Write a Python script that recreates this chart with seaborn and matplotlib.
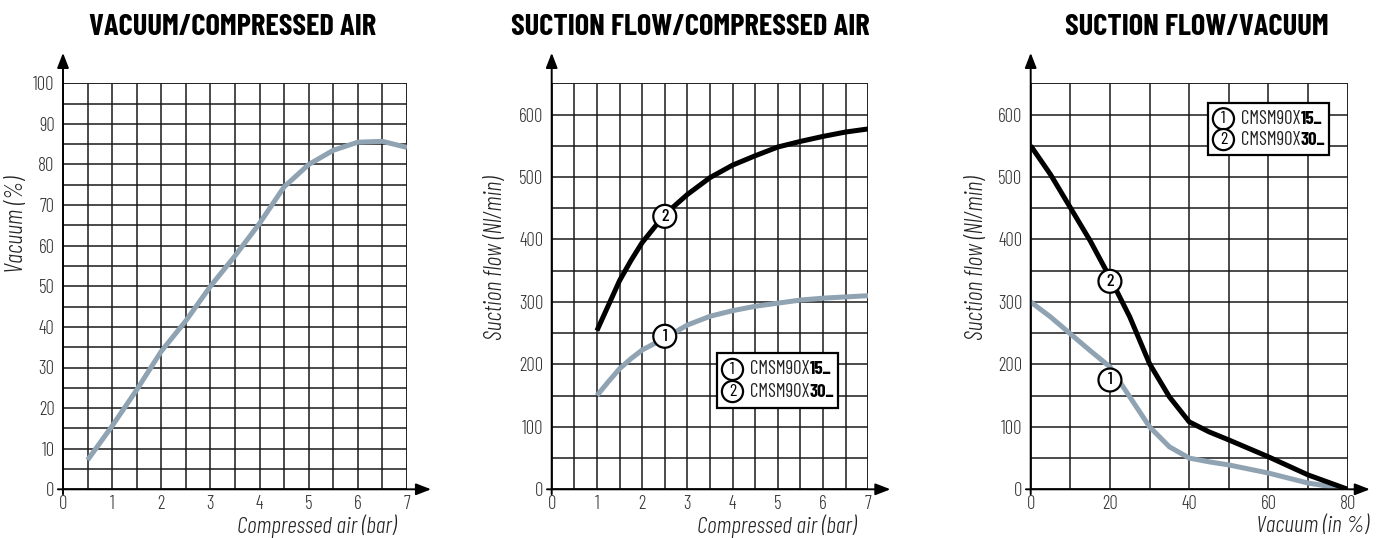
import numpy as np
import pandas as pd
import matplotlib
matplotlib.use("Agg")
import matplotlib.pyplot as plt
import seaborn as sns
from matplotlib.patches import Rectangle

# ---------------- data ----------------
p1_air = [0.5, 1.0, 1.5, 2.0, 2.5, 3.0, 3.5, 4.0, 4.5, 5.0, 5.5, 6.0, 6.5, 7.0]
p1_vac = [7.2, 15.6, 24.5, 34.0, 41.5, 50.0, 57.5, 65.5, 74.5, 80.0, 83.5, 85.5, 85.7, 84.2]

p2_air = [1.0, 1.25, 1.5, 1.75, 2.0, 2.5, 3.0, 3.5, 4.0, 4.5, 5.0, 5.5, 6.0, 6.5, 7.0]
p2_flow15 = [150, 172, 193, 209, 223, 242, 263, 277, 286, 293, 298, 303, 306, 308, 310]
p2_flow30 = [254, 294, 334, 366, 395, 440, 472, 499, 519, 534, 548, 557, 565, 572, 577]

p3_vac = [0, 5, 10, 15, 20, 25, 30, 35, 40, 45, 50, 60, 70, 80]
p3_flow15 = [300, 276, 249, 222, 196, 148, 100, 68, 50, 44, 39, 26, 10, 0]
p3_flow30 = [550, 504, 451, 398, 339, 276, 201, 148, 108, 92, 79, 52, 23, 0]

titles = ["VACUUM/COMPRESSED AIR", "SUCTION FLOW/COMPRESSED AIR", "SUCTION FLOW/VACUUM"]
xlabels = ["Compressed air (bar)", "Compressed air (bar)", "Vacuum (in %)"]
ylabels = ["Vacuum (%)", "Suction flow (Nl/min)", "Suction flow (Nl/min)"]
legend_models = [("1", "CMSM90X", "15_"), ("2", "CMSM90X", "30_")]
p2_marks = [("1", 2.5, 245), ("2", 2.5, 437)]
p3_marks = [("1", 20, 175), ("2", 20, 333)]

GREY = "#8fa3b3"
BLACK = "#000000"

sns.set_style("white")
FONT = ["Barlow Condensed", "DejaVu Sans"]
plt.rcParams["font.family"] = FONT
plt.rcParams["text.color"] = "#222222"

fig = plt.figure(figsize=(13.85, 5.38), dpi=100)
W, H = 1385, 538
bottom = (H - 489.3) / H
height = 406 / H
lefts = [63 / W, 551.7 / W, 1030.7 / W]
widths = [344 / W, 316.6 / W, 317 / W]
axes = [fig.add_axes([l, bottom, w, height]) for l, w in zip(lefts, widths)]

df1 = pd.DataFrame({"x": p1_air, "y": p1_vac})
df2 = pd.DataFrame({"x": p2_air * 2, "y": p2_flow15 + p2_flow30,
                    "model": ["15"] * len(p2_air) + ["30"] * len(p2_air)})
df3 = pd.DataFrame({"x": p3_vac * 2, "y": p3_flow15 + p3_flow30,
                    "model": ["15"] * len(p3_vac) + ["30"] * len(p3_vac)})

LW = 3.6
sns.lineplot(data=df1, x="x", y="y", ax=axes[0], color=GREY, lw=LW, legend=False,
             solid_capstyle="butt", solid_joinstyle="round")
sns.lineplot(data=df2, x="x", y="y", hue="model", palette={"15": GREY, "30": BLACK},
             ax=axes[1], lw=LW, legend=False, solid_capstyle="butt",
             solid_joinstyle="round")
sns.lineplot(data=df3, x="x", y="y", hue="model", palette={"15": GREY, "30": BLACK},
             ax=axes[2], lw=LW, legend=False, solid_capstyle="butt",
             solid_joinstyle="round")

cfg = [
    dict(xlim=(0, 7), xmaj=np.arange(0, 8, 1), xmin=np.arange(0, 7.01, 0.5),
         ylim=(0, 100), ymaj=np.arange(0, 101, 10), ymin=np.arange(0, 100.1, 5)),
    dict(xlim=(0, 7), xmaj=np.arange(0, 8, 1), xmin=np.arange(0, 7.01, 0.5),
         ylim=(0, 650), ymaj=np.arange(0, 601, 100), ymin=np.arange(0, 651, 50)),
    dict(xlim=(0, 80), xmaj=np.arange(0, 81, 20), xmin=np.arange(0, 81, 10),
         ylim=(0, 650), ymaj=np.arange(0, 601, 100), ymin=np.arange(0, 651, 50)),
]
xlabel_pos = [0.738, 0.709, 0.89]
ylabel_x = [-0.134, -0.176, -0.1725]

for i, ax in enumerate(axes):
    c = cfg[i]
    ax.set_xlim(*c["xlim"])
    ax.set_ylim(*c["ylim"])
    ax.set_xticks(c["xmaj"])
    ax.set_yticks(c["ymaj"])
    ax.set_xticks(c["xmin"], minor=True)
    ax.set_yticks(c["ymin"], minor=True)
    ax.set_xticklabels([f"{v:g}" for v in c["xmaj"]])
    ax.set_yticklabels([f"{v:g}" for v in c["ymaj"]])
    ax.tick_params(axis="both", which="both", length=0, labelsize=13.5,
                   labelcolor="#333333")
    for lab in ax.get_xticklabels() + ax.get_yticklabels():
        lab.set_fontweight(300)
    ax.tick_params(axis="y", pad=6)
    ax.tick_params(axis="x", pad=4)
    ax.grid(True, which="both", color="#1a1a1a", lw=1.1)
    ax.set_axisbelow(True)
    for s in ax.spines.values():
        s.set_visible(False)
    ax.axvline(c["xlim"][1], color="#1a1a1a", lw=1.1, zorder=0.5)
    ax.axhline(c["ylim"][1], color="#1a1a1a", lw=1.1, zorder=0.5)
    ax.set_xlabel("")
    ax.set_ylabel("")
    ax.annotate("", xy=(1.07, 0), xytext=(-0.015, 0), xycoords="axes fraction",
                textcoords="axes fraction",
                arrowprops=dict(arrowstyle="-|>,head_length=0.9,head_width=0.35",
                                color="black", lw=1.4, shrinkA=0, shrinkB=0),
                annotation_clip=False)
    ax.annotate("", xy=(0, 1.075), xytext=(0, -0.012), xycoords="axes fraction",
                textcoords="axes fraction",
                arrowprops=dict(arrowstyle="-|>,head_length=0.9,head_width=0.35",
                                color="black", lw=1.4, shrinkA=0, shrinkB=0),
                annotation_clip=False)
    ax.text(xlabel_pos[i], -0.091, xlabels[i], transform=ax.transAxes, ha="center",
            va="center", fontsize=17, style="italic", fontweight=300,
            color="#222222")
    ax.text(ylabel_x[i], 0.772, ylabels[i], transform=ax.transAxes,
            ha="center", va="top", rotation=90, fontsize=17.5, style="italic",
            fontweight=300, color="#222222")

title_x = [233, 690, 1197]
for t, x in zip(titles, title_x):
    fig.text(x / W, 1 - 27.5 / H, t, ha="center", va="center", fontsize=22,
             fontweight=700, color="black")

def circ_num(ax, x, y, s, transform=None, fs=13, pad=0.22, weight=500):
    kw = {}
    if transform is not None:
        kw["transform"] = transform
    ax.text(x, y, s, ha="center", va="center", fontsize=fs, color="black",
            fontweight=weight,
            bbox=dict(boxstyle=f"circle,pad={pad}", fc="white", ec="black", lw=1.6),
            zorder=6, **kw)

for s, x, y in p2_marks:
    circ_num(axes[1], x, y, s)
for s, x, y in p3_marks:
    circ_num(axes[2], x, y, s)

def legend_box(ax, x0, y0, x1, y1):
    ax.add_patch(Rectangle((x0, y0), x1 - x0, y1 - y0, transform=ax.transAxes,
                           fc="white", ec="black", lw=1.6, zorder=5, clip_on=False))
    rows = [y0 + (y1 - y0) * 0.70, y0 + (y1 - y0) * 0.30]
    for (num, base, bold), yy in zip(legend_models, rows):
        circ_num(ax, x0 + 0.05, yy, num, transform=ax.transAxes, fs=13, pad=0.17,
                 weight=400)
        t1 = ax.text(x0 + 0.105, yy, base, transform=ax.transAxes, ha="left",
                     va="center", fontsize=13.5, color="#222222", zorder=6,
                     fontweight=400)
        ax.annotate(bold, xy=(1, 0), xycoords=t1, ha="left", va="bottom",
                    fontsize=13.5, fontweight=700, color="black", zorder=6)

legend_box(axes[1], 0.521, 0.200, 0.903, 0.336)
legend_box(axes[2], 0.558, 0.823, 0.940, 0.951)

fig.savefig("out.png", dpi=100)
